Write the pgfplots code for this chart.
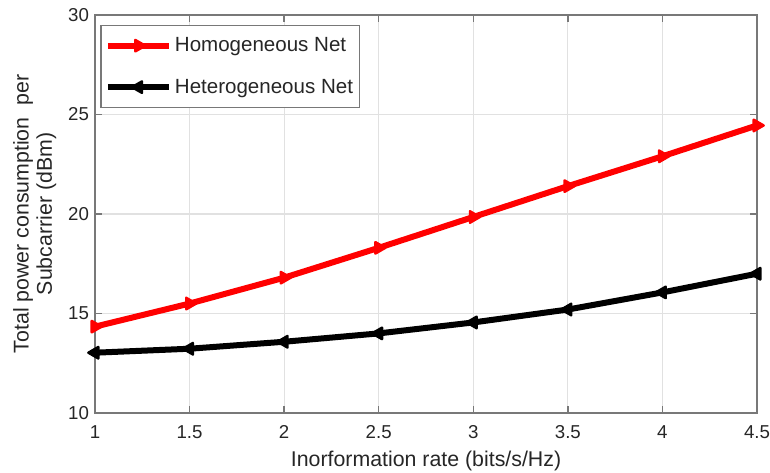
\documentclass[border=0pt]{standalone}
\usepackage{pgfplots}
\pgfplotsset{compat=1.18}
\usepackage{fontspec}
\setmainfont{Liberation Sans}
\definecolor{axgray}{RGB}{120,120,120}
\definecolor{txt}{RGB}{38,38,38}
\definecolor{gridc}{RGB}{225,225,225}
\begin{document}
\begin{tikzpicture}[x=0.75pt,y=0.75pt]
\begin{axis}[
  scale only axis,
  width=496.5pt, height=298.5pt,
  xmin=1, xmax=4.5, ymin=10, ymax=30,
  xtick={1,1.5,...,4.5},
  ytick={10,15,20,25,30},
  xticklabels={1,1.5,2,2.5,3,3.5,4,4.5},
  grid=major,
  major grid style={gridc, line width=0.8pt},
  axis line style={axgray, line width=1pt},
  tick style={axgray, line width=1pt},
  tick align=inside,
  major tick length=5pt,
  xtick pos=both, ytick pos=both,
  tick label style={font=\fontsize{14}{16}\selectfont, text=txt},
  xticklabel style={yshift=-6pt},
  yticklabel style={xshift=-1pt},
  /pgf/number format/assume math mode=true,
  xlabel={Inorformation rate (bits/s/Hz)},
  ylabel={Total power consumption\ \ per\\Subcarrier (dBm)},
  ylabel style={align=center, font=\fontsize{16}{17.5}\selectfont, text=txt, yshift=2pt},
  xlabel style={font=\fontsize{16}{18}\selectfont, text=txt, yshift=-2.5pt},
  legend style={at={(0.008,0.975)}, anchor=north west, draw=axgray, line width=1pt,
    font=\fontsize{15.4}{18}\selectfont, text=txt, inner xsep=3pt, inner ysep=7pt, row sep=15pt,
    cells={anchor=west}},
  legend image code/.code={\draw[mark repeat=2,mark phase=2] plot coordinates {(0pt,0pt) (23pt,0pt) (46pt,0pt)};},
]
\addplot[red, line width=4.5pt, line join=round, mark=triangle*, mark size=5pt, mark options={rotate=-90, line width=1.8pt, line join=round}]
 coordinates {(1,14.34) (1.5,15.5) (2,16.8) (2.5,18.3) (3,19.85) (3.5,21.4) (4,22.9) (4.5,24.45)};
\addlegendentry{Homogeneous Net}
\addplot[black, line width=4.5pt, line join=round, mark=triangle*, mark size=5pt, mark options={rotate=90, line width=1.8pt, line join=round}]
 coordinates {(1,13.03) (1.5,13.23) (2,13.58) (2.5,14.0) (3,14.55) (3.5,15.2) (4,16.06) (4.5,17.0)};
\addlegendentry{Heterogeneous Net}
\end{axis}
\pgfresetboundingbox
\path (-95,-59) rectangle (675,413);
\end{tikzpicture}
\end{document}
